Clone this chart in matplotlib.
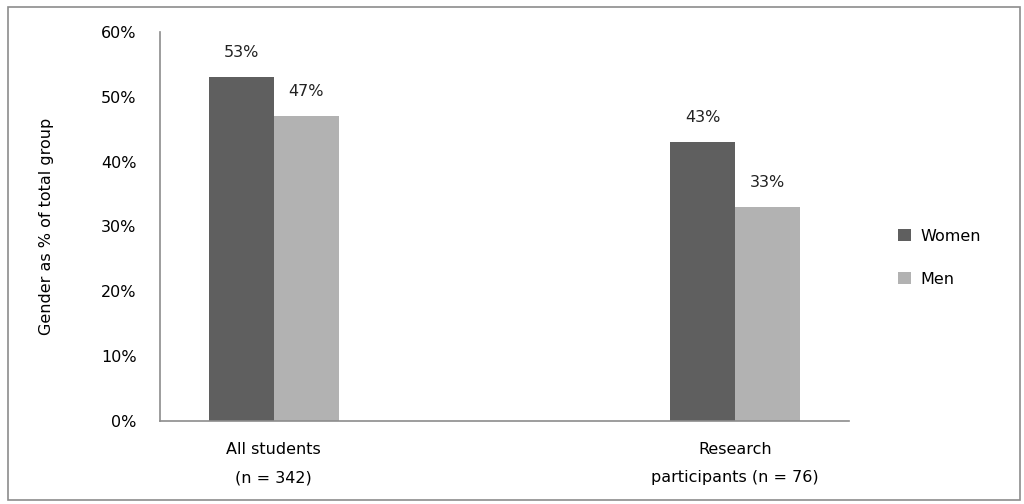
import numpy as np
import matplotlib.pyplot as plt
from matplotlib.patches import Rectangle

plt.rc('font', family='DejaVu Sans', size=11.5)

categories = ['All students\n(n = 342)', 'Research\nparticipants (n = 76)']
women = [0.53, 0.43]
men = [0.47, 0.33]
series = ['Women', 'Men']
colors = ['#5f5f5f', '#b2b2b2']
yticks = [0, 0.1, 0.2, 0.3, 0.4, 0.5, 0.6]

fig = plt.figure(figsize=(10.24, 5.04), dpi=100)
fig.patches.append(Rectangle((0.008, 0.008), 0.988, 0.978, transform=fig.transFigure,
                             fill=False, edgecolor='#8c8c8c', lw=1.2))
ax = fig.add_axes([0.1563, 0.1647, 0.6728, 0.7718])

x = np.arange(len(categories))
w = 0.141
for k, (vals, c) in enumerate(zip([women, men], colors)):
    xs = x + (k - 0.5) * w
    ax.bar(xs, vals, width=w, color=c, label=series[k])
    for xi, v in zip(xs, vals):
        ax.annotate('%d%%' % round(v * 100), (xi, v), xytext=(0, 25), textcoords='offset pixels',
                    ha='center', va='center', fontsize=11.5, color='#222222')

ax.set_xlim(-0.246, 1.247)
ax.set_ylim(0, 0.6)
ax.set_yticks(yticks)
ax.set_yticklabels(['%d%%' % round(t * 100) for t in yticks])
ax.set_xticks(x)
ax.set_xticklabels(categories, linespacing=2.1)
ax.tick_params(axis='y', length=0, pad=17)
ax.tick_params(axis='x', length=0, pad=15)
for s in ['top', 'right']:
    ax.spines[s].set_visible(False)
for s in ['left', 'bottom']:
    ax.spines[s].set_color('#8c8c8c')
    ax.spines[s].set_linewidth(1.2)
ax.set_ylabel('Gender as % of total group', fontsize=11.5, labelpad=34)

ax.legend(loc='center left', bbox_to_anchor=(1.05, 0.42), frameon=False, handlelength=0.8,
          handleheight=0.8, labelspacing=1.75, handletextpad=0.6, fontsize=11.5)

fig.savefig('out.png', dpi=100)
